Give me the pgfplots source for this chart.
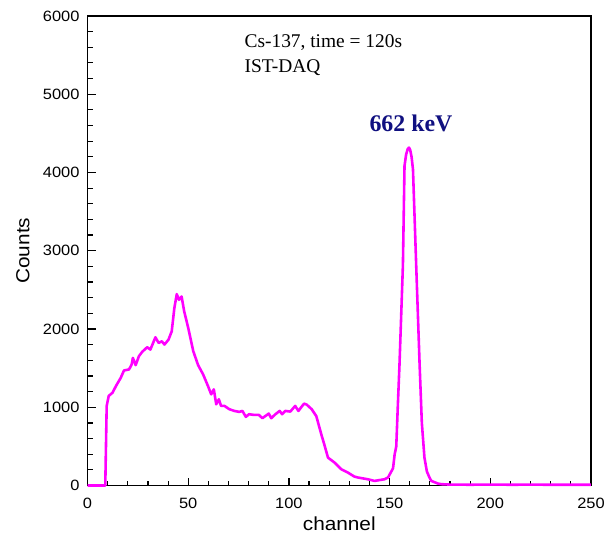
\documentclass[border=0pt]{standalone}
\usepackage{pgfplots}
\pgfplotsset{compat=1.18}
\usepackage{fontspec}
\setmainfont[FakeStretch=1.1]{Liberation Sans}
\newfontfamily\serifx{Liberation Serif}
\definecolor{mag}{RGB}{255,0,255}
\definecolor{navy}{RGB}{16,16,128}
\begin{document}
\begin{tikzpicture}
\begin{axis}[
  scale only axis,
  width=506pt, height=472pt,
  xmin=0, xmax=250, ymin=0, ymax=6000,
  xtick={0,50,...,250}, ytick={0,1000,...,6000},
  minor x tick num=4, minor y tick num=4,
  tick align=inside,
  xtick pos=bottom, ytick pos=left,
  major tick length=8pt, minor tick length=5pt,
  line width=1.6pt,
  every tick/.style={line width=1.2pt, black},
  tick label style={font=\fontsize{15}{17}\selectfont},
  xticklabel style={yshift=-8pt},
  yticklabel style={xshift=-4pt, /pgf/number format/set thousands separator={}},
  /pgf/number format/assume math mode=true,
  scaled y ticks=false,
  xlabel={channel}, ylabel={Counts},
  label style={font=\fontsize{19}{21}\selectfont},
  xlabel style={yshift=-1pt},
  ylabel style={yshift=6pt},
  clip=false,
]
\addplot[mag, line width=2.6pt, line join=round] coordinates {
(0,0) (8.8,0) (9.5,1017) (10.5,1144) (12.4,1186) (14.1,1271) (16.5,1377) (18.1,1470)
(20.6,1483) (21.9,1546) (22.5,1631) (23.9,1538) (25.5,1652) (27.1,1707) (29.6,1767)
(31.2,1737) (33.7,1894) (35.3,1822) (36.9,1843) (38.2,1801) (40.2,1864) (41.8,1970)
(43.1,2267) (44.3,2445) (45.4,2373) (46.7,2415) (48.0,2224) (50.0,2013) (52.5,1716)
(54.9,1538) (57.4,1419) (59.8,1271) (61.4,1165) (62.7,1229) (63.9,1038) (65.2,1102)
(66.3,1017) (68.0,1017) (70.4,975) (72.9,953) (75.3,941) (76.9,953) (78.6,877)
(80.2,911) (82.7,902) (85.1,902) (86.8,860) (88.4,890) (90.0,919) (91.2,860)
(93.3,911) (95.4,953) (96.6,911) (98.2,953) (100.7,945) (103.1,1017) (104.7,953)
(107.5,1046) (108.8,1034) (111.3,975) (113.6,886) (116.1,652) (117.5,530) (119.4,356)
(122.7,292) (126.0,208) (129.3,165) (132.5,114) (134.3,102) (139.2,80) (142.5,59)
(147.5,80) (149.2,102) (150,140) (151.7,220) (152.5,398) (153.3,500) (154.1,1034)
(154.9,1542) (156.6,2813) (157.4,4085) (158.2,4230) (159.0,4300) (159.6,4318) (160.2,4290)
(160.9,4200) (161.6,4040) (163.2,2813) (164.9,1542) (166,800) (167.3,356) (168.5,180) (169.8,102) (170.7,59)
(174,25) (175.7,17) (180,12) (190,10) (200,12) (210,10) (220,11) (230,10) (240,10) (250,10)
};
\node[anchor=base west, font=\serifx\fontsize{19.5}{22}\selectfont, inner sep=0pt] at (axis cs:77.6,5593) {Cs-137, time = 120s};
\node[anchor=base west, font=\serifx\fontsize{19.5}{22}\selectfont, inner sep=0pt] at (axis cs:77.6,5279) {IST-DAQ};
\node[anchor=base, font=\serifx\bfseries\fontsize{24}{26}\selectfont, text=navy, inner sep=0pt] at (axis cs:160.6,4517) {662 keV};
\end{axis}
\path (current axis.south west) ++(-88pt,-46pt) (current axis.north east) ++(14pt,16pt);
\end{tikzpicture}
\end{document}
